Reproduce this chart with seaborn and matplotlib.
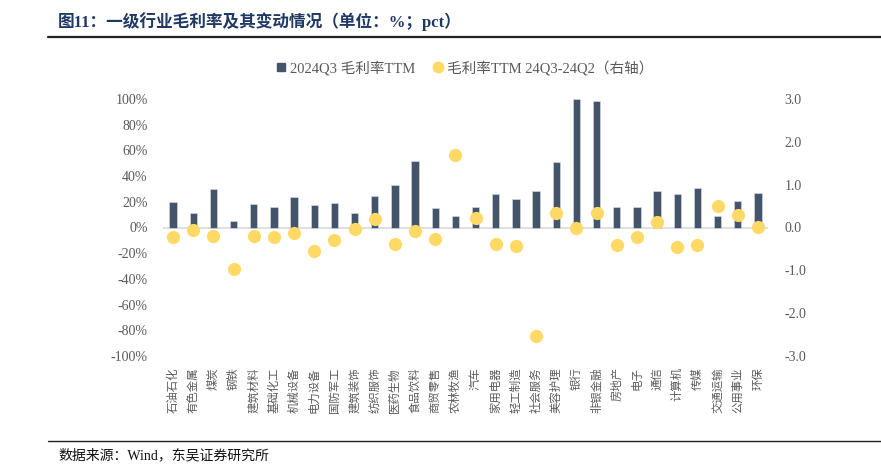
import numpy as np
import pandas as pd
import matplotlib
matplotlib.use("Agg")
import matplotlib.pyplot as plt
from matplotlib.lines import Line2D
import seaborn as sns

industries = ["石油石化", "有色金属", "煤炭", "钢铁", "建筑材料", "基础化工", "机械设备", "电力设备",
              "国防军工", "建筑装饰", "纺织服饰", "医药生物", "食品饮料", "商贸零售", "农林牧渔", "汽车",
              "家用电器", "轻工制造", "社会服务", "美容护理", "银行", "非银金融", "房地产", "电子",
              "通信", "计算机", "传媒", "交通运输", "公用事业", "环保"]
gross_margin = [19.5, 11.2, 29.6, 4.9, 17.9, 16.3, 23.6, 17.6, 18.9, 10.9, 24.4, 32.7, 51.4, 14.8,
                9.3, 16.3, 25.9, 21.8, 28.3, 50.8, 100.0, 98.3, 15.6, 15.6, 28.3, 26.2, 31.1, 9.1,
                20.7, 26.5]
margin_change = [-0.23, -0.05, -0.21, -0.96, -0.19, -0.23, -0.12, -0.55, -0.30, -0.04, 0.20, -0.39,
                 -0.08, -0.27, 1.70, 0.22, -0.39, -0.44, -2.53, 0.34, 0.00, 0.34, -0.40, -0.22,
                 0.12, -0.45, -0.42, 0.51, 0.30, 0.01]
left_ticks = [-100, -80, -60, -40, -20, 0, 20, 40, 60, 80, 100]
right_ticks = [-3.0, -2.0, -1.0, 0.0, 1.0, 2.0, 3.0]
legend_labels = ["2024Q3 毛利率TTM", "毛利率TTM 24Q3-24Q2（右轴）"]
title_text = "图11：一级行业毛利率及其变动情况（单位：%；pct）"
source_text = "数据来源：Wind，东吴证券研究所"

sns.set_theme(style="white")
plt.rcParams["font.family"] = ["Liberation Serif", "Noto Sans CJK SC", "DejaVu Sans"]

BAR = "#44546A"
DOT = "#FFD966"
GRAY = "#595959"
SERIF = ["Liberation Serif", "Noto Sans CJK SC"]

W, H = 881, 466
fig = plt.figure(figsize=(W / 100, H / 100), dpi=100)
ax = fig.add_axes([163 / W, 1 - 356 / H, (768 - 163) / W, (356 - 99) / H])

df = pd.DataFrame({"industry": industries, "margin": gross_margin, "change": margin_change})

ax.axhline(0, color="#D9D9D9", lw=1.2, zorder=0)
sns.barplot(data=df, x="industry", y="margin", color=BAR, saturation=1, width=0.36,
            edgecolor="#D0D5DD", linewidth=0.5, ax=ax, zorder=2)

ax2 = ax.twinx()
sns.stripplot(data=df, x="industry", y="change", jitter=False, color=DOT, size=9.5,
              linewidth=0, ax=ax2, zorder=3)

n = len(industries)
for a in (ax, ax2):
    a.set_xlim(-0.5, n - 0.5)
    a.set_xlabel("")
    a.set_ylabel("")
    for s in a.spines.values():
        s.set_visible(False)
    a.grid(False)

ax.set_ylim(-100, 100)
ax2.set_ylim(-3, 3)
ax.set_yticks(left_ticks)
ax.set_yticklabels([f"{v:.0f}%" for v in left_ticks], family=SERIF, fontsize=10, color=GRAY)
ax2.set_yticks(right_ticks)
ax2.set_yticklabels([f"{v:.1f}" for v in right_ticks], family=SERIF, fontsize=10, color=GRAY)
ax.tick_params(axis="y", length=0, pad=11)
ax2.tick_params(axis="y", length=0, pad=12)

ax.set_xticks(range(n))
ax.set_xticklabels(industries, rotation=90, family=["Noto Sans CJK SC"], fontsize=8.2, color=GRAY)
ax.tick_params(axis="x", length=0, pad=8)
ax2.tick_params(axis="x", bottom=False, labelbottom=False, top=False, labeltop=False)

handles = [Line2D([], [], marker="s", color=BAR, linestyle="none", markersize=5.5),
           Line2D([], [], marker="o", color=DOT, linestyle="none", markersize=7.5)]
leg = fig.legend(handles, legend_labels, loc="center", bbox_to_anchor=(463 / W, 1 - 68 / H),
                 ncol=2, frameon=False, handletextpad=0.0, columnspacing=1.0,
                 handlelength=1.2, prop={"family": SERIF, "size": 10.5})
for t in leg.get_texts():
    t.set_color(GRAY)

fig.text(58 / W, 1 - 22 / H, title_text, family=SERIF, fontsize=12, fontweight="bold",
         color="#1F3864", va="center", ha="left")
fig.add_artist(Line2D([48 / W, 1.0], [1 - 37 / H, 1 - 37 / H], color="#222222", lw=1.6))
fig.add_artist(Line2D([48 / W, 1.0], [1 - 441 / H, 1 - 441 / H], color="#222222", lw=1.0))
fig.text(58 / W, 1 - 455 / H, source_text, family=SERIF, fontsize=10, color="#111111",
         va="center", ha="left")

fig.savefig("out.png", dpi=100)
